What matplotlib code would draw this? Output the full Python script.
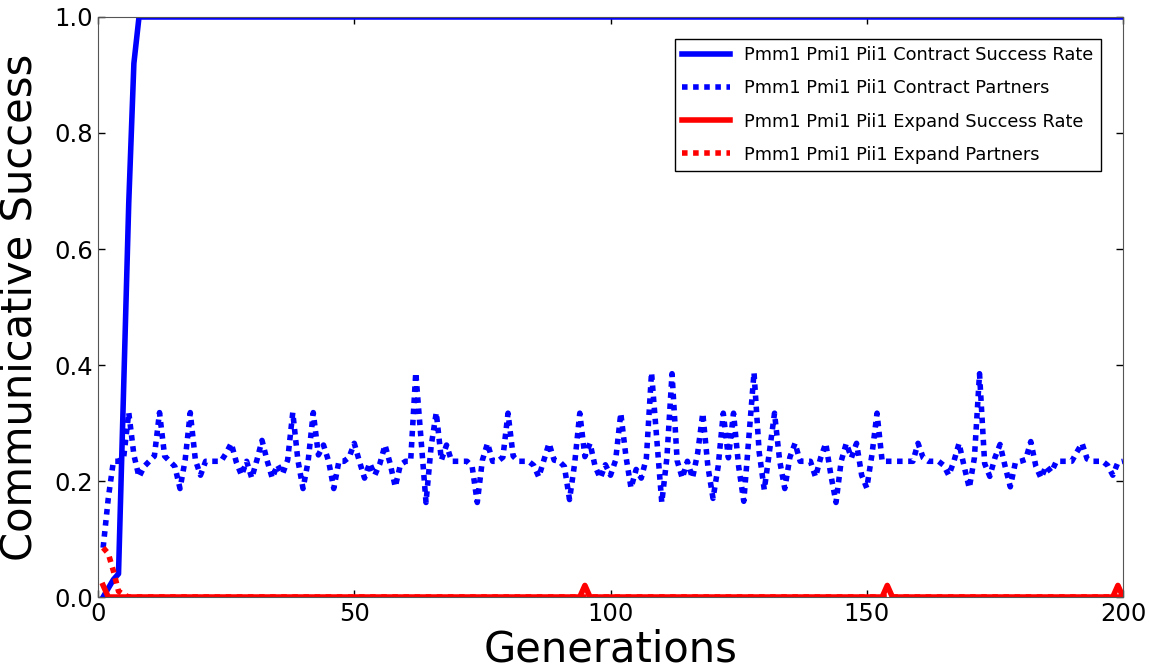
import numpy as np
import matplotlib
matplotlib.use("Agg")
import matplotlib.pyplot as plt

generations = np.arange(1, 201)

contract_rate_head = [0.0, 0.015, 0.03, 0.04, 0.36, 0.68, 0.92, 1.0]
contract_rate_tail = 1.0

contract_partners = [
    0.085, 0.17, 0.234, 0.234, 0.24, 0.318, 0.245, 0.207, 0.225, 0.234,
    0.243, 0.318, 0.243, 0.234, 0.225, 0.187, 0.236, 0.318, 0.236, 0.21,
    0.234, 0.234, 0.234, 0.234, 0.248, 0.265, 0.232, 0.21, 0.234, 0.205,
    0.236, 0.27, 0.235, 0.205, 0.228, 0.212, 0.236, 0.318, 0.236, 0.187,
    0.234, 0.318, 0.245, 0.262, 0.234, 0.187, 0.234, 0.234, 0.241, 0.265,
    0.234, 0.205, 0.231, 0.21, 0.23, 0.262, 0.23, 0.19, 0.228, 0.234,
    0.234, 0.387, 0.275, 0.163, 0.26, 0.318, 0.236, 0.262, 0.234, 0.234,
    0.234, 0.234, 0.225, 0.163, 0.236, 0.265, 0.234, 0.234, 0.241, 0.317,
    0.243, 0.234, 0.234, 0.234, 0.227, 0.207, 0.236, 0.265, 0.236, 0.234,
    0.225, 0.168, 0.23, 0.317, 0.242, 0.265, 0.225, 0.205, 0.228, 0.21,
    0.236, 0.317, 0.243, 0.188, 0.22, 0.205, 0.24, 0.387, 0.275, 0.163,
    0.24, 0.385, 0.235, 0.205, 0.234, 0.205, 0.248, 0.317, 0.225, 0.17,
    0.225, 0.317, 0.24, 0.317, 0.225, 0.165, 0.275, 0.387, 0.25, 0.185,
    0.25, 0.317, 0.235, 0.187, 0.241, 0.265, 0.234, 0.234, 0.234, 0.207,
    0.24, 0.265, 0.21, 0.163, 0.234, 0.265, 0.24, 0.265, 0.21, 0.188,
    0.245, 0.317, 0.234, 0.234, 0.234, 0.234, 0.234, 0.234, 0.234, 0.265,
    0.24, 0.234, 0.234, 0.234, 0.227, 0.21, 0.234, 0.265, 0.225, 0.188,
    0.24, 0.385, 0.23, 0.208, 0.24, 0.263, 0.225, 0.19, 0.232, 0.234,
    0.237, 0.268, 0.225, 0.205, 0.226, 0.215, 0.234, 0.234, 0.234, 0.234,
    0.25, 0.265, 0.238, 0.234, 0.234, 0.234, 0.227, 0.21, 0.232, 0.234,
]

# expand success rate is zero except for a few small spikes
expand_rate_spikes = {1: 0.02, 95: 0.02, 154: 0.02, 199: 0.02}

expand_partners_head = [0.085, 0.075, 0.045, 0.01, 0.004]

contract_rate = np.full(len(generations), contract_rate_tail)
contract_rate[:len(contract_rate_head)] = contract_rate_head

expand_rate = np.zeros(len(generations))
for g, v in expand_rate_spikes.items():
    expand_rate[g - 1] = v

expand_partners = np.zeros(len(generations))
expand_partners[:len(expand_partners_head)] = expand_partners_head

plt.rcParams["xtick.direction"] = "in"
plt.rcParams["ytick.direction"] = "in"
plt.rcParams["xtick.top"] = True
plt.rcParams["ytick.right"] = True

fig = plt.figure(figsize=(11.49, 6.69), dpi=100)
ax = fig.add_axes([0.0853, 0.1076, 0.8921, 0.867])

dots = (0, (1, 1))
ax.plot(generations, contract_rate, color="blue", lw=4,
        label="Pmm1 Pmi1 Pii1 Contract Success Rate")
ax.plot(generations, contract_partners, color="blue", lw=4, ls=dots,
        label="Pmm1 Pmi1 Pii1 Contract Partners")
ax.plot(generations, expand_rate, color="red", lw=4,
        label="Pmm1 Pmi1 Pii1 Expand Success Rate")
ax.plot(generations, expand_partners, color="red", lw=4, ls=dots,
        label="Pmm1 Pmi1 Pii1 Expand Partners")

ax.set_xlim(0, 200)
ax.set_ylim(0, 1.0)
ax.set_xticks([0, 50, 100, 150, 200])
ax.set_yticks([0.0, 0.2, 0.4, 0.6, 0.8, 1.0])
ax.tick_params(labelsize=17.5, length=5, width=1)
for s in ax.spines.values():
    s.set_color("#555555")

ax.set_xlabel("Generations", fontsize=30, labelpad=2)
ax.set_ylabel("Communicative Success", fontsize=30, labelpad=10)

leg = ax.legend(loc="upper right", fontsize=12.8, fancybox=False,
                borderaxespad=1.25, handlelength=2.7, labelspacing=0.85,
                framealpha=1)
leg.get_frame().set_edgecolor("black")

fig.savefig("out.png", dpi=100)
